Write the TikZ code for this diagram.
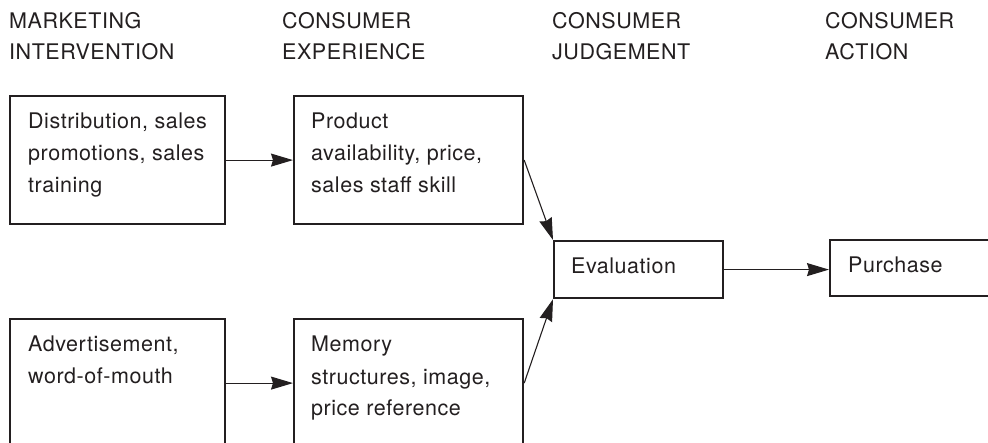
\documentclass[tikz,border=0pt]{standalone}
\usepackage{fontspec}
\setmainfont{TeX Gyre Heros}[LetterSpace=2.5]
\usetikzlibrary{arrows.meta}
\definecolor{ink}{HTML}{231F20}
\begin{document}
\begin{tikzpicture}[x=1pt,y=-1pt,
  box/.style={draw=ink, line width=2.2pt, rectangle, inner sep=0pt, anchor=north west},
  txt/.style={text=ink, font=\fontsize{21.5}{32}\selectfont, align=left, inner sep=0pt, anchor=base west},
  hdr/.style={text=ink, font=\fontsize{21.5}{31}\selectfont, align=left, inner sep=0pt, anchor=base west},
  arr/.style={draw=ink, line width=1.1pt, -{Stealth[length=22pt,width=13pt,inset=2pt]}}]
\useasboundingbox (0,0) rectangle (988,443);
\clip (0,0) rectangle (988,443);
% headers (base anchor = baseline of last line)
\node[hdr] (h1) at (9,60) {MARKETING\\INTERVENTION};
\node[hdr] (h2) at (282,60) {CONSUMER\\EXPERIENCE};
\node[hdr] (h3) at (552,60) {CONSUMER\\JUDGEMENT};
\node[hdr] (h4) at (825,60) {CONSUMER\\ACTION};
% boxes
\node[box, minimum width=215, minimum height=128] (b1) at (9,95) {};
\node[box, minimum width=229, minimum height=128] (b2) at (293,95) {};
\node[box, minimum width=215, minimum height=128] (b3) at (9,318) {};
\node[box, minimum width=229, minimum height=128] (b4) at (293,318) {};
\node[box, minimum width=169, minimum height=57] (ev) at (553,240) {};
\node[box, minimum width=200, minimum height=56] (pu) at (829,239) {};
% texts
\node[txt] (t1) at (28,193) {Distribution, sales\\promotions, sales\\training};
\node[txt] (t2) at (311,193) {Product\\availability, price,\\sales staff skill};
\node[txt] (t3) at (28,384) {Advertisement,\\word-of-mouth};
\node[txt] (t4) at (311,416) {Memory\\structures, image,\\price reference};
\node[txt] (t5) at (571,274) {Evaluation};
\node[txt] (t6) at (848,273) {Purchase};
% connectors
\draw[arr] (b1.east) -- (b2.west);
\draw[arr] (b3.east) -- (b4.west);
\draw[arr] (b2.east) -- (ev.north west);
\draw[arr] (b4.east) -- (ev.south west);
\draw[arr] (ev.east) -- (ev.east -| pu.west);
\end{tikzpicture}
\end{document}
